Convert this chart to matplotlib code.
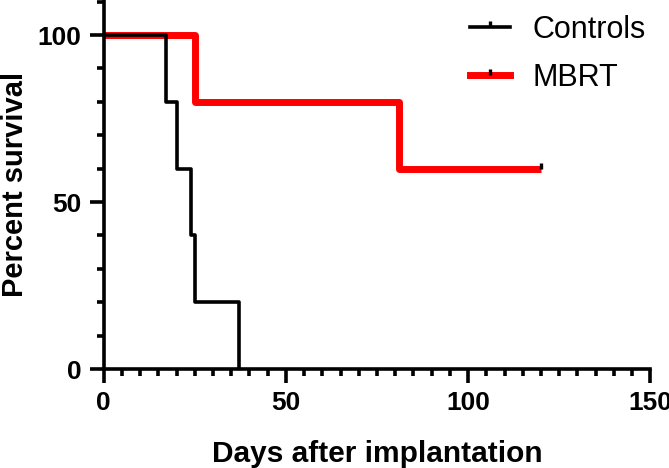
import matplotlib
matplotlib.use('Agg')
import matplotlib.pyplot as plt
from matplotlib.lines import Line2D
from matplotlib.ticker import MultipleLocator

# Kaplan-Meier steps
controls_days = [0, 17, 20, 24, 25, 37]
controls_surv = [100, 80, 60, 40, 20, 0]
mbrt_days = [0, 25, 81, 120]
mbrt_surv = [100, 80, 60, 60]
mbrt_censor_days = [120]
mbrt_censor_surv = [60]

x_ticks = [0, 50, 100, 150]
y_ticks = [0, 50, 100]


def main():
    plt.rcParams['font.family'] = ['Liberation Sans', 'DejaVu Sans']

    fig = plt.figure(figsize=(6.69, 4.68), dpi=100)
    ax = fig.add_axes([0.155, 0.2115, 0.817, 0.7885])

    # up-pointing censor tick
    tick_up = [(0, 0), (0, 1)]

    ax.step(mbrt_days, mbrt_surv, where='post', color='#ff0000', lw=5,
            solid_capstyle='butt', zorder=2)
    ax.plot(mbrt_censor_days, mbrt_censor_surv, ls='none', marker=tick_up,
            ms=9, mec='black', mew=2.4, zorder=4)
    ax.step(controls_days, controls_surv, where='post', color='black', lw=2.6,
            solid_capstyle='butt', zorder=3)

    ax.set_xlim(0, 150)
    ax.set_ylim(0, 110.5)
    ax.set_xticks(x_ticks)
    ax.set_yticks(y_ticks)
    ax.xaxis.set_minor_locator(MultipleLocator(5))
    ax.yaxis.set_minor_locator(MultipleLocator(10))

    for side in ['top', 'right']:
        ax.spines[side].set_visible(False)
    for side in ['left', 'bottom']:
        ax.spines[side].set_linewidth(2.6)

    ax.tick_params(which='major', direction='out', length=10, width=2.6,
                   labelsize=19, pad=6)
    ax.tick_params(which='minor', direction='out', length=5, width=2.6)
    for lab in ax.get_xticklabels() + ax.get_yticklabels():
        lab.set_fontweight('bold')

    ax.set_xlabel('Days after implantation', fontsize=21.5, fontweight='bold',
                  labelpad=18)
    ax.set_ylabel('Percent survival', fontsize=21, fontweight='bold',
                  labelpad=6)

    handles = [
        Line2D([], [], color='black', lw=2.6, marker=tick_up, ms=8,
               mec='black', mew=2.4),
        Line2D([], [], color='#ff0000', lw=5, marker=tick_up, ms=8,
               mec='black', mew=2.4),
    ]
    fig.legend(handles, ['Controls', 'MBRT'], loc='upper left',
               bbox_to_anchor=(0.7025, 0.968), bbox_transform=fig.transFigure,
               frameon=False, fontsize=22, borderpad=0, borderaxespad=0,
               handlelength=1.31, handletextpad=0.72, labelspacing=0.575,
               numpoints=1)

    for line in ax.lines:
        line.set_clip_on(False)

    fig.savefig('out.png', dpi=100)


if __name__ == '__main__':
    main()
